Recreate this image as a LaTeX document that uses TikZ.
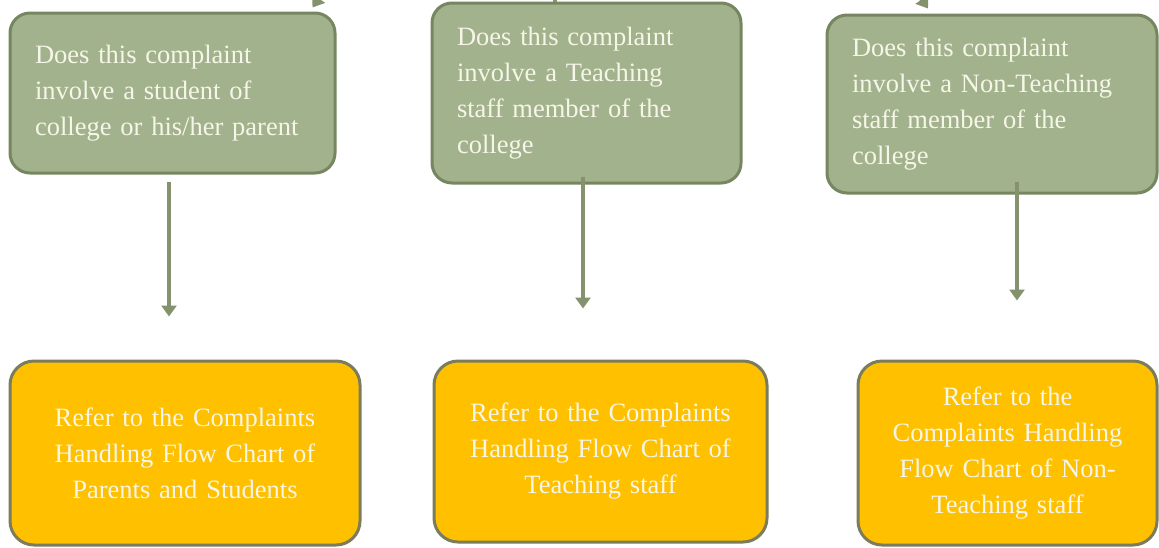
\documentclass[tikz,border=0pt]{standalone}
\usepackage{fontspec}
\setmainfont{Liberation Serif}
\usetikzlibrary{arrows.meta,calc}
\definecolor{gfill}{RGB}{162,178,140}
\definecolor{gline}{RGB}{118,134,96}
\definecolor{ofill}{RGB}{255,192,0}
\definecolor{oline}{RGB}{122,124,92}
\definecolor{txt}{RGB}{246,246,232}
\definecolor{arrc}{RGB}{132,147,110}
\tikzset{
  qbox/.style={draw=gline, fill=gfill, line width=3pt, rounded corners=20pt,
    inner xsep=25pt, inner ysep=0pt, align=left, text=txt,
    font=\fontsize{26.5}{36}\selectfont},
  rbox/.style={draw=oline, fill=ofill, line width=3pt, rounded corners=24pt,
    inner xsep=20pt, inner ysep=0pt, align=center, text=txt,
    font=\fontsize{26.5}{36}\selectfont},
  arr/.style={draw=arrc, line width=4.5pt, -{Triangle[width=15pt,length=11pt]}},
}
\begin{document}
\begin{tikzpicture}[x=1pt,y=-1pt]
\useasboundingbox (0,0) rectangle (1159,547);
\clip (0,0) rectangle (1159,547);
\fill[white] (0,0) rectangle (1159,547);
% incoming arrows cut off at the top edge
\coordinate (in1) at (345,-40);
\coordinate (in2) at (555,-40);
\coordinate (in3) at (895,-40);
% question boxes
\node[qbox, minimum width=325pt, minimum height=160pt, text width=275pt] (g1) at (172.5,93)
  {Does this complaint\\involve a student of\\college or his/her parent};
\node[qbox, minimum width=309pt, minimum height=180pt, text width=259pt] (g2) at (586.5,93)
  {Does this complaint\\involve a Teaching\\staff member of the\\college};
\node[qbox, minimum width=330pt, minimum height=178pt, text width=280pt] (g3) at (992,104)
  {Does this complaint\\involve a Non-Teaching\\staff member of the\\college};
% result boxes
\node[rbox, minimum width=350pt, minimum height=184pt, text width=310pt] (o1) at (185,453)
  {Refer to the Complaints\\Handling Flow Chart of\\Parents and Students};
\node[rbox, minimum width=333pt, minimum height=181pt, text width=293pt] (o2) at (600.5,451.5)
  {Refer to the Complaints\\Handling Flow Chart of\\Teaching staff};
\node[rbox, minimum width=299pt, minimum height=184pt, text width=259pt] (o3) at (1007.5,453)
  {Refer to the\\Complaints Handling\\Flow Chart of Non-\\Teaching staff};
% arrows between boxes
\draw[arr, shorten >=43pt] ([xshift=-3.5pt,yshift=-7pt]g1.south) -- ([xshift=-3.5pt]g1.south |- o1.north);
\draw[arr, shorten >=51pt] ([xshift=-3.5pt,yshift=8pt]g2.south) -- ([xshift=-3.5pt]g2.south |- o2.north);
\draw[arr, shorten >=59pt] ([xshift=25pt,yshift=13pt]g3.south) -- ([xshift=25pt]g3.south |- o3.north);
% incoming arrow fragments
\draw[arr] (in1) -- ([xshift=-24pt,yshift=4pt]g1.north east);
\draw[draw=arrc, line width=4.5pt] (in2) -- (in2 |- g2.north);
\draw[arr] (in3) -- ([xshift=-64pt,yshift=5pt]g3.north);
\end{tikzpicture}
\end{document}
